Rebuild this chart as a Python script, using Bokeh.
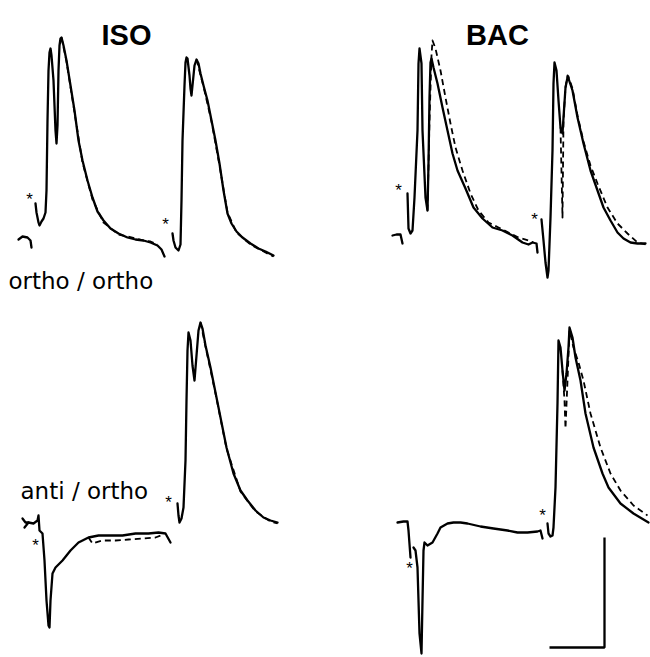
from bokeh.plotting import figure
from bokeh.models import Range1d
from bokeh.core.properties import value
from bokeh.embed import file_html
from bokeh.resources import INLINE

# ---------------- data (time units, potential units; y grows downward) ----------------
# ISO  ortho/ortho
iso_oo_pre_t = [18, 22, 27, 30, 31]
iso_oo_pre_v = [239, 236, 237, 240, 247]
iso_oo_a_t = [35, 36, 38, 39, 41, 43, 45, 46, 47, 48, 49, 50, 51, 53, 55, 56, 57, 58, 59, 60, 61, 63, 66, 70, 74, 78, 82, 87, 92, 97, 103, 110, 118, 127, 135, 143, 150, 157, 161, 164]
iso_oo_a_v = [203, 212, 222, 225, 221, 218, 212, 190, 120, 70, 52, 48, 55, 80, 130, 143, 125, 70, 45, 38, 37, 45, 60, 85, 110, 140, 160, 180, 197, 211, 220, 228, 233, 237, 239, 240, 242, 245, 249, 256]
iso_oo_a_dash_t = [61, 66, 74, 82, 92, 103, 118, 127, 135, 143, 150, 157]
iso_oo_a_dash_v = [37, 61, 112, 162, 199, 222, 234, 236, 238, 240, 241, 244]
iso_oo_b_t = [172, 173, 175, 178, 180, 181, 182, 184, 185, 186, 187, 189, 190, 191, 192, 194, 196, 198, 200, 203, 207, 211, 215, 219, 223, 227, 231, 236, 242, 250, 258, 265, 273]
iso_oo_b_v = [233, 240, 247, 250, 244, 200, 140, 85, 62, 57, 58, 75, 88, 95, 85, 65, 59, 63, 73, 85, 100, 120, 140, 163, 190, 213, 223, 231, 237, 243, 248, 251, 255]
iso_oo_b_dash_t = [196, 203, 211, 219, 227, 236, 250, 265, 273]
iso_oo_b_dash_v = [59, 86, 121, 165, 212, 232, 244, 252, 256]

# BAC  ortho/ortho
bac_oo_pre_t = [392, 396, 400, 402]
bac_oo_pre_v = [235, 234, 234, 243]
bac_oo_a_t = [407, 408, 410, 412, 414, 417, 418, 419, 421, 422, 425, 427, 428, 429, 430, 431, 433, 437, 442, 447, 452, 457, 465, 473, 482, 492, 502, 512, 522, 528, 532, 536, 537]
bac_oo_a_v = [193, 228, 233, 230, 197, 130, 63, 48, 63, 130, 197, 210, 163, 97, 62, 58, 67, 83, 107, 130, 153, 170, 188, 207, 218, 227, 230, 235, 242, 244, 242, 243, 252]
bac_oo_a_dash_t = [427, 429, 431, 432, 435, 440, 445, 450, 455, 462, 470, 478, 488, 498, 508, 518, 528, 533]
bac_oo_a_dash_v = [210, 120, 55, 40, 48, 70, 97, 123, 147, 170, 193, 210, 222, 227, 232, 237, 240, 242]
bac_oo_b_t = [541, 543, 545, 547, 548, 550, 552, 553, 554, 556, 558, 560, 562, 563, 565, 567, 568, 572, 577, 583, 590, 597, 603, 610, 617, 623, 630, 637, 645]
bac_oo_b_v = [219, 240, 262, 277, 270, 217, 150, 83, 62, 70, 100, 127, 133, 117, 87, 77, 78, 90, 117, 143, 170, 190, 207, 220, 232, 238, 242, 243, 243]
bac_oo_b_dash_t = [560, 562, 563, 565, 567, 568, 572, 577, 583, 590, 597, 607, 617, 627, 637, 645]
bac_oo_b_dash_v = [127, 217, 120, 87, 75, 76, 88, 115, 141, 165, 183, 207, 223, 233, 242, 244]

# ISO  anti/ortho
iso_ao_pre_t = [22, 25, 28, 24]
iso_ao_pre_v = [518, 522, 522, 527]
iso_ao_a_t = [28, 33, 37, 38, 39, 42, 44, 46, 48, 49, 50, 52, 55, 62, 70, 78, 88, 98, 108, 122, 135, 148, 158, 165, 170]
iso_ao_a_v = [522, 523, 520, 515, 530, 533, 560, 600, 625, 627, 600, 573, 567, 560, 550, 542, 537, 535, 535, 535, 533, 533, 532, 533, 542]
iso_ao_a_dash_t = [88, 92, 102, 115, 128, 142, 155, 163]
iso_ao_a_dash_v = [537, 543, 540, 540, 539, 538, 537, 534]
iso_ao_b_t = [177, 178, 179, 181, 183, 185, 186, 187, 188, 190, 192, 194, 196, 198, 200, 202, 205, 210, 215, 220, 226, 233, 240, 247, 255, 263, 270, 277]
iso_ao_b_v = [503, 515, 522, 518, 507, 460, 400, 350, 332, 340, 365, 380, 355, 330, 322, 328, 345, 367, 392, 417, 447, 473, 490, 500, 510, 517, 520, 522]
iso_ao_b_dash_t = [200, 205, 215, 226, 240, 255, 270, 277]
iso_ao_b_dash_v = [322, 346, 393, 448, 491, 511, 521, 523]

# BAC  anti/ortho
bac_ao_pre_t = [397, 403, 407, 408, 410]
bac_ao_pre_v = [522, 521, 521, 530, 557]
bac_ao_a_t = [413, 415, 417, 419, 421, 422, 423, 424, 427, 432, 437, 440, 447, 453, 460, 467, 480, 493, 507, 517, 527, 537, 540, 542]
bac_ao_a_v = [547, 550, 567, 633, 653, 600, 550, 542, 545, 542, 533, 527, 523, 522, 522, 523, 526, 528, 530, 532, 532, 531, 530, 538]
bac_ao_b_t = [547, 548, 550, 552, 553, 555, 557, 558, 560, 562, 564, 566, 568, 569, 572, 575, 580, 585, 593, 602, 608, 620, 633, 648]
bac_ao_b_v = [523, 533, 536, 535, 527, 487, 403, 340, 347, 370, 390, 373, 347, 327, 337, 357, 380, 413, 447, 473, 487, 503, 513, 522]
bac_ao_b_dash_t = [562, 564, 565, 567, 569, 573, 578, 583, 590, 600, 610, 620, 633, 647]
bac_ao_b_dash_v = [370, 400, 428, 380, 330, 347, 362, 380, 413, 447, 473, 490, 505, 515]

# stimulus markers (asterisks)
star_t = [29, 165, 398, 534, 35, 168, 409, 542]
star_v = [199, 224, 190, 219, 545, 502, 568, 515]

# scale bar
bar_t = [604, 604, 549]
bar_v = [537, 647, 647]

# labels
titles = ["ISO", "BAC"]
title_t = [126, 497]
cond_labels = ["ortho / ortho", "anti / ortho"]
cond_t = [8, 20]
cond_v = [280, 490]

# ---------------- figure ----------------
p = figure(width=650, height=657, output_backend="svg", toolbar_location=None,
           x_range=Range1d(0, 650), y_range=Range1d(657, 0),
           min_border=0, min_border_left=0, min_border_right=0,
           min_border_top=0, min_border_bottom=0)
p.axis.visible = False
p.grid.visible = False
p.outline_line_color = None
p.background_fill_color = "white"
p.border_fill_color = "white"

ink = "#000000"
solid = [
    (iso_oo_pre_t, iso_oo_pre_v), (iso_oo_a_t, iso_oo_a_v), (iso_oo_b_t, iso_oo_b_v),
    (bac_oo_pre_t, bac_oo_pre_v), (bac_oo_a_t, bac_oo_a_v), (bac_oo_b_t, bac_oo_b_v),
    (iso_ao_pre_t, iso_ao_pre_v), (iso_ao_a_t, iso_ao_a_v), (iso_ao_b_t, iso_ao_b_v),
    (bac_ao_pre_t, bac_ao_pre_v), (bac_ao_a_t, bac_ao_a_v), (bac_ao_b_t, bac_ao_b_v),
]
dashed = [
    (iso_oo_a_dash_t, iso_oo_a_dash_v), (iso_oo_b_dash_t, iso_oo_b_dash_v),
    (bac_oo_a_dash_t, bac_oo_a_dash_v), (bac_oo_b_dash_t, bac_oo_b_dash_v),
    (iso_ao_a_dash_t, iso_ao_a_dash_v), (iso_ao_b_dash_t, iso_ao_b_dash_v),
    (bac_ao_b_dash_t, bac_ao_b_dash_v),
]
for t, v in dashed:
    p.line(t, v, line_color=ink, line_width=1.8, line_dash="6 4", line_join="round")
for t, v in solid:
    p.line(t, v, line_color=ink, line_width=2.3, line_join="round", line_cap="round")

p.line(bar_t, bar_v, line_color=ink, line_width=2.3)

p.text(x=star_t, y=star_v, text=["*"] * len(star_t), text_font=value("Liberation Sans"),
       text_font_size="17px", text_align="center", text_baseline="middle", text_color=ink)

p.text(x=title_t, y=[34, 34], text=titles, text_font=value("Liberation Sans"),
       text_font_size="29px", text_font_style="bold", text_align="center",
       text_baseline="alphabetic", text_color=ink)
p.text(x=cond_t, y=cond_v, text=cond_labels, text_font=value("DejaVu Sans"),
       text_font_size="23px", text_align="left", text_baseline="alphabetic", text_color=ink)

open("out.html", "w").write(file_html(p, INLINE))
